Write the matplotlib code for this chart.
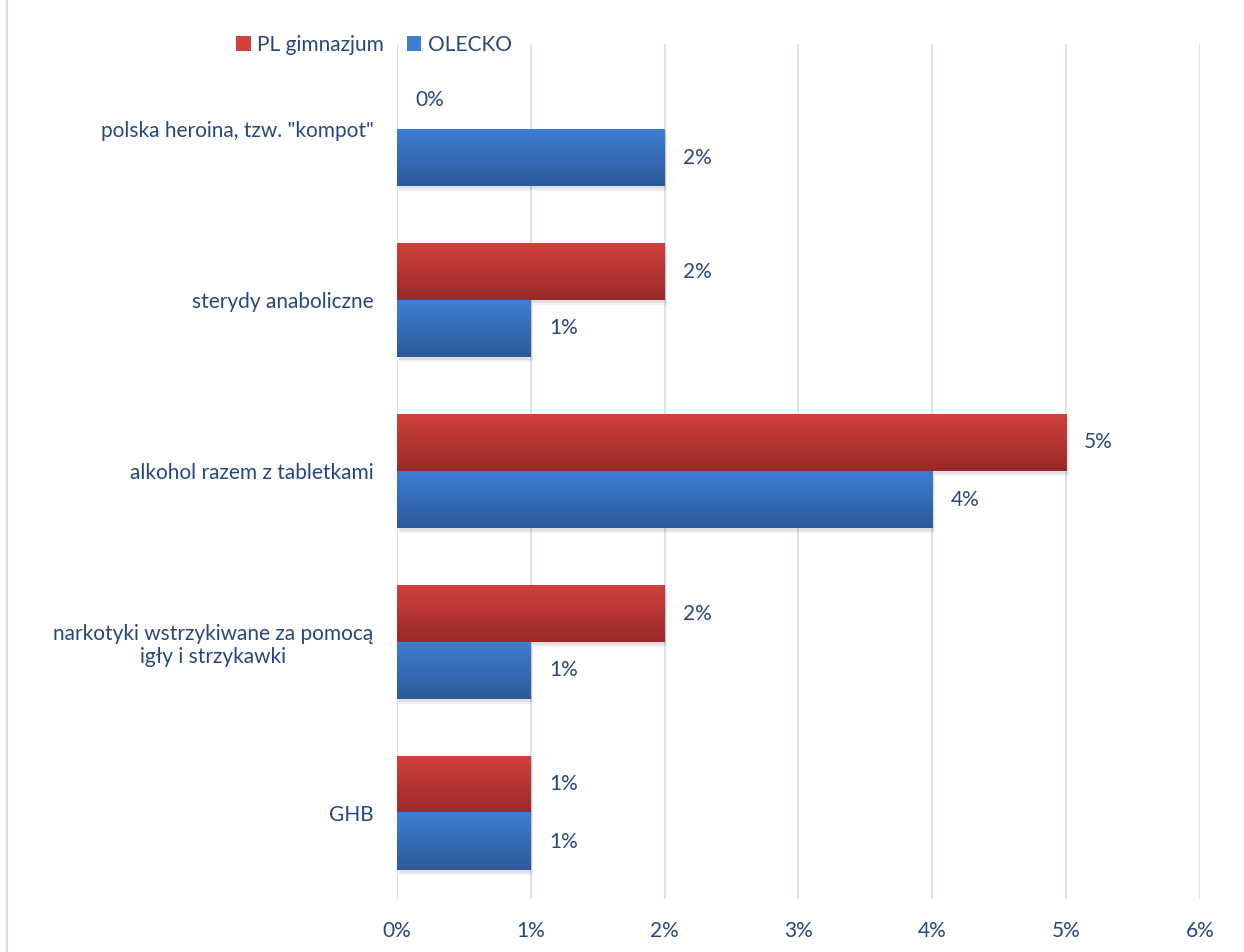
import matplotlib.pyplot as plt
import numpy as np
from matplotlib.patches import Patch
from matplotlib.colors import LinearSegmentedColormap

# ----------------- data -----------------
categories = ['polska heroina, tzw. "kompot"',
              'sterydy anaboliczne',
              'alkohol razem z tabletkami',
              'narkotyki wstrzykiwane za pomocą\nigły i strzykawki',
              'GHB']
pl_gimnazjum = [0, 2, 5, 2, 1]
olecko = [2, 1, 4, 1, 1]
series_names = ['PL gimnazjum', 'OLECKO']
x_ticks = [0, 1, 2, 3, 4, 5, 6]

text_color = '#25497C'
grid_color = '#D9E3F1'
red_top, red_bot = '#D2403C', '#992A29'
blue_top, blue_bot = '#3D7ED3', '#2C5A98'
fs = 15

plt.rcParams['font.family'] = ['Lato', 'DejaVu Sans']

fig = plt.figure(figsize=(12.44, 9.52), dpi=100)
ax = fig.add_axes([397 / 1244, 1 - 898.5 / 952, (1200 - 397) / 1244, (898.5 - 43.5) / 952])

n = len(categories)
y = np.arange(n)
h = 1 / 3.0


def grad_bar(ax, x0, x1, yc, height, top, bot):
    # vertical gradient, darker at the bottom (y axis is inverted)
    if x1 <= x0:
        return
    cmap = LinearSegmentedColormap.from_list('g', [top, bot])
    grad = np.linspace(0, 1, 64).reshape(-1, 1)
    # soft shadow
    for k, a in [(0.03, 0.05), (0.02, 0.07)]:
        ax.add_patch(plt.Rectangle((x0 + k * 0.6, yc - height / 2 + k), x1 - x0, height,
                                   color='#000000', alpha=a, lw=0, zorder=2))
    ax.imshow(grad, cmap=cmap, aspect='auto', zorder=3,
              extent=(x0, x1, yc + height / 2, yc - height / 2), interpolation='bilinear')


for i in range(n):
    grad_bar(ax, 0, pl_gimnazjum[i], y[i] - h / 2, h, red_top, red_bot)
    grad_bar(ax, 0, olecko[i], y[i] + h / 2, h, blue_top, blue_bot)
    ax.text(pl_gimnazjum[i] + 0.135, y[i] - h / 2, f'{pl_gimnazjum[i]}%', va='center', ha='left',
            color=text_color, fontsize=fs)
    ax.text(olecko[i] + 0.135, y[i] + h / 2, f'{olecko[i]}%', va='center', ha='left',
            color=text_color, fontsize=fs)

ax.set_xlim(0, 6)
ax.set_ylim(n - 0.5, -0.5)
ax.set_xticks(x_ticks)
ax.set_xticklabels([f'{t}%' for t in x_ticks])
ax.set_yticks(y)
ax.set_yticklabels(categories, multialignment='center')
ax.tick_params(axis='x', length=0, pad=16, labelcolor=text_color, labelsize=fs)
ax.tick_params(axis='y', length=0, pad=17, labelcolor=text_color, labelsize=fs)
for s in ax.spines.values():
    s.set_visible(False)
ax.xaxis.grid(True, color=grid_color, lw=1.5, zorder=0)
ax.set_axisbelow(True)

# legend
handles = [Patch(facecolor=red_top, edgecolor='none'), Patch(facecolor=blue_top, edgecolor='none')]
fig.legend(handles, series_names, loc='center', bbox_to_anchor=(374 / 1244, 1 - 45 / 952),
           ncol=2, frameon=False, fontsize=fs, labelcolor=text_color,
           handlelength=0.7, handleheight=0.7, handletextpad=0.3, columnspacing=1.1)

# left border line of the chart area
fig.add_artist(plt.Line2D([7 / 1244, 7 / 1244], [0, 1], color='#D6E0EE', lw=1.5))

fig.savefig('out.png', dpi=100)
